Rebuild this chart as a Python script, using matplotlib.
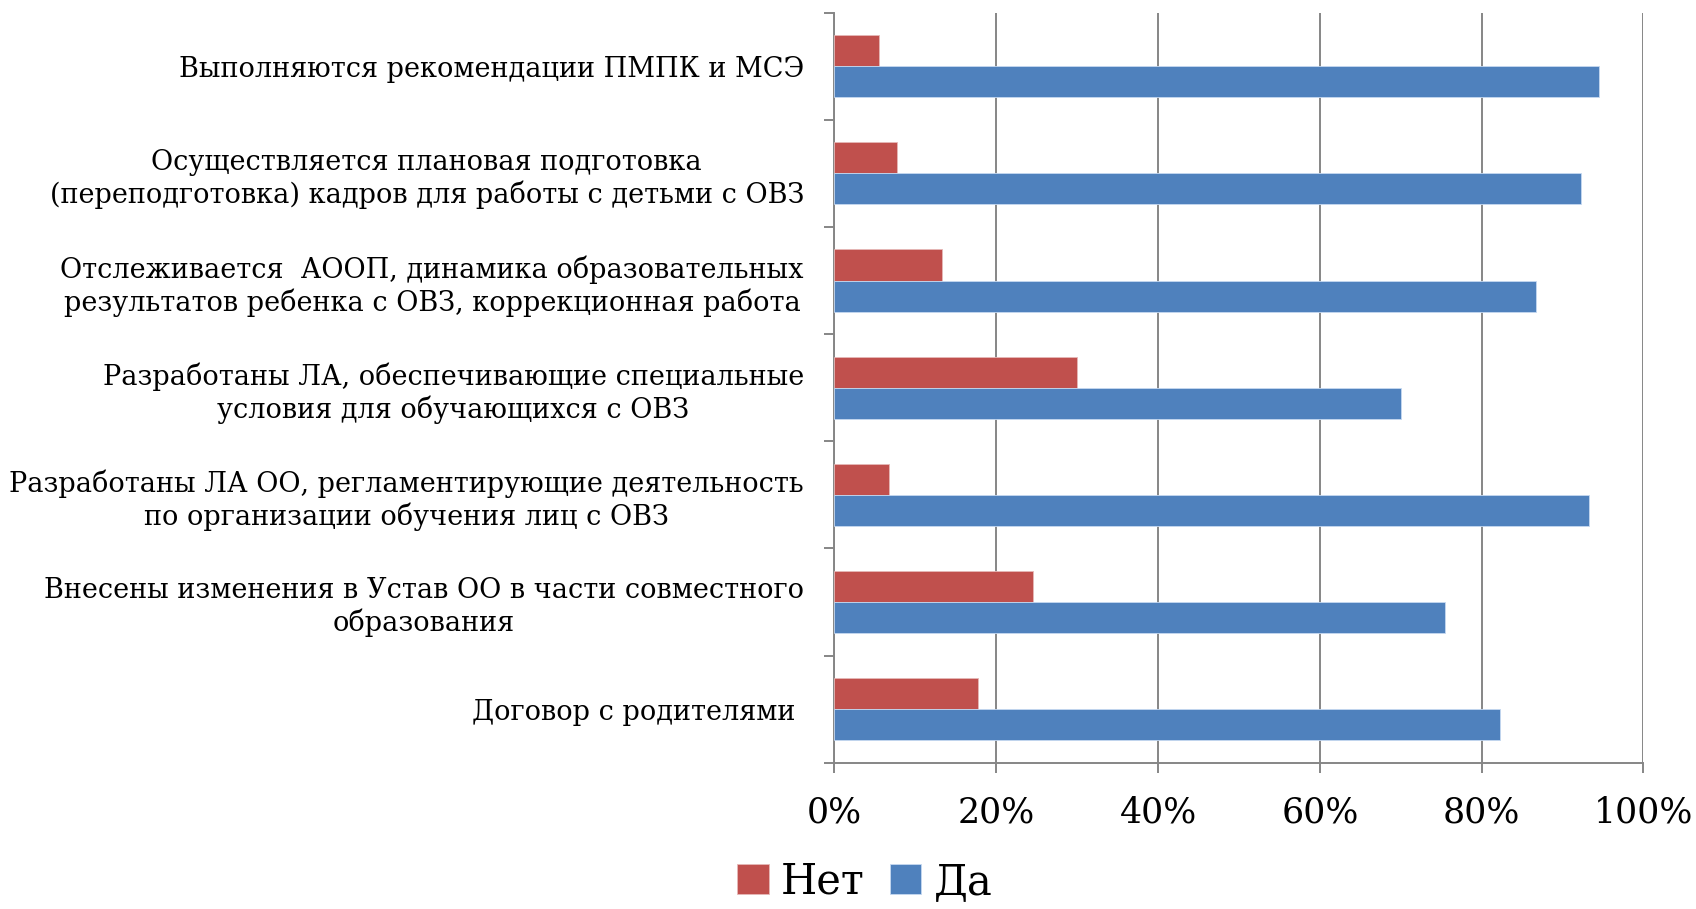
import numpy as np
import matplotlib
matplotlib.use("Agg")
import matplotlib.pyplot as plt
from matplotlib.ticker import FuncFormatter

# Chart data (shares of answers, %)
categories = [
    "Выполняются рекомендации ПМПК и МСЭ",
    "Осуществляется плановая подготовка\n(переподготовка) кадров для работы с детьми с ОВЗ",
    "Отслеживается  АООП, динамика образовательных\nрезультатов ребенка с ОВЗ, коррекционная работа",
    "Разработаны ЛА, обеспечивающие специальные\nусловия для обучающихся с ОВЗ",
    "Разработаны ЛА ОО, регламентирующие деятельность\nпо организации обучения лиц с ОВЗ",
    "Внесены изменения в Устав ОО в части совместного\nобразования",
    "Договор с родителями ",
]
net_values = [5.5, 7.7, 13.3, 30.0, 6.7, 24.5, 17.7]
da_values = [94.5, 92.3, 86.7, 70.0, 93.3, 75.5, 82.3]
x_ticks = [0, 20, 40, 60, 80, 100]

RED = "#C0504D"
BLUE = "#4F81BD"
GRID = "#868686"

plt.rcParams["font.family"] = ["DejaVu Serif"]

fig = plt.figure(figsize=(16.96, 9.09), dpi=100)
ax = fig.add_axes([0.492, 0.161, 0.477, 0.825])

y = np.arange(len(categories))
h = 0.29
ax.barh(y - h / 2, net_values, height=h, color=RED, edgecolor="#E6B8B7",
        linewidth=0.6, label="Нет", zorder=3)
ax.barh(y + h / 2, da_values, height=h, color=BLUE, edgecolor="#C6D9F1",
        linewidth=0.6, label="Да", zorder=3)

ax.set_xlim(0, 100)
ax.set_ylim(len(categories) - 0.5, -0.5)

# x axis: percent ticks with vertical grid lines
ax.set_xticks(x_ticks)
ax.xaxis.set_major_formatter(FuncFormatter(lambda v, p: f"{v:.0f}%"))
ax.grid(axis="x", color=GRID, linewidth=1.4, zorder=0)
ax.tick_params(axis="x", length=7, width=1.4, color=GRID, direction="out",
               pad=17, labelsize=25)

# y axis: labels at category centres, ticks at category borders
ax.set_yticks(y)
ax.set_yticklabels(categories, fontsize=19.5, multialignment="center")
ax.tick_params(axis="y", which="major", length=0, pad=22)
ax.set_yticks(np.arange(len(categories) + 1) - 0.5, minor=True)
ax.tick_params(axis="y", which="minor", length=7, width=1.4, color=GRID,
               direction="out")

for side in ["top", "right"]:
    ax.spines[side].set_visible(False)
for side in ["left", "bottom"]:
    ax.spines[side].set_color(GRID)
    ax.spines[side].set_linewidth(1.4)

fig.legend(loc="center", bbox_to_anchor=(0.51, 0.03), ncol=2, frameon=False,
           fontsize=30, handlelength=0.75, handleheight=0.75,
           handletextpad=0.3, columnspacing=0.6)

fig.savefig("out.png", dpi=100)
